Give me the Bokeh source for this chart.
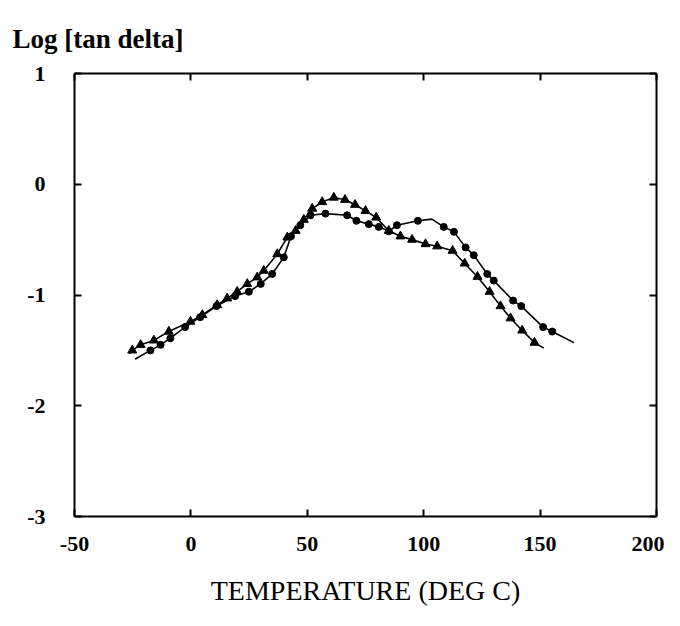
from bokeh.plotting import figure
from bokeh.models import Range1d, LinearAxis, FixedTicker, Title
from bokeh.embed import file_html
from bokeh.resources import INLINE

# Triangle series (marker positions)
tri_T = [-25.2, -21.6, -15.9, -9.5, -0.2, 4.9, 11.3, 15.6, 19.9, 24.2, 28.5, 31.3,
         37.1, 41.4, 45.0, 48.5, 52.1, 56.4, 61.4, 66.2, 70.5, 75.0, 79.6, 85.0,
         90.0, 95.0, 100.8, 105.8, 112.4, 117.6, 123.1, 128.3, 133.0, 137.3, 142.3, 147.6]
tri_v = [-1.50, -1.45, -1.41, -1.33, -1.24, -1.18, -1.09, -1.03, -0.97, -0.90, -0.84, -0.78,
         -0.63, -0.48, -0.42, -0.32, -0.22, -0.16, -0.12, -0.14, -0.185, -0.24, -0.30, -0.42,
         -0.47, -0.50, -0.54, -0.56, -0.60, -0.715, -0.835, -0.97, -1.10, -1.21, -1.32, -1.43]
tri_end_T = [-26.5, 151.6]
tri_end_v = [-1.53, -1.48]

# Circle series (marker positions)
cir_T = [-17.4, -13.0, -8.8, -2.5, 4.0, 11.0, 19.0, 24.9, 30.0, 34.9, 39.9, 43.0,
         47.0, 51.4, 57.8, 67.1, 71.1, 76.4, 80.7, 85.0, 88.5, 97.5, 108.6, 113.0,
         118.0, 121.5, 127.3, 130.1, 138.4, 141.9, 151.3, 155.2]
cir_v = [-1.50, -1.45, -1.39, -1.29, -1.20, -1.10, -1.01, -0.97, -0.90, -0.81, -0.66, -0.47,
         -0.37, -0.28, -0.265, -0.28, -0.33, -0.36, -0.385, -0.425, -0.37, -0.33, -0.385, -0.43,
         -0.57, -0.64, -0.81, -0.87, -1.05, -1.10, -1.29, -1.33]
cir_end_T = [-24.0, 164.5]
cir_end_v = [-1.58, -1.43]
cir_peak_T = [103.5]
cir_peak_v = [-0.315]

x_ticks = [-50, 0, 50, 100, 150, 200]
x_labels = ["-50", "0", "50", "100", "150", "200"]
y_ticks = [-3, -2, -1, 0, 1]
y_labels = ["-3", "-2", "-1", "0", "1"]

FONT = "Liberation Serif"

p = figure(width=664, height=626, x_range=Range1d(-50, 200), y_range=Range1d(-3, 1),
           output_backend="svg", toolbar_location=None,
           min_border_left=74, min_border_right=8, min_border_top=73, min_border_bottom=110)
p.grid.visible = False
p.outline_line_color = None

p.title.text = "Log [tan delta]"
p.title.align = "left"
p.title.offset = -62
p.title.text_font = FONT
p.title.text_font_style = "bold"
p.title.text_font_size = "27px"
p.title.text_color = "black"
p.title.standoff = 40

for ax in (p.xaxis[0], p.yaxis[0]):
    ax.major_tick_in = 7
    ax.major_tick_out = 0
    ax.minor_tick_line_color = None
    ax.axis_line_width = 2
    ax.major_tick_line_width = 2
    ax.major_label_text_font = FONT
    ax.major_label_text_font_style = "bold"
    ax.major_label_text_font_size = "22px"
    ax.major_label_text_color = "black"
p.xaxis[0].ticker = FixedTicker(ticks=x_ticks)
p.yaxis[0].ticker = FixedTicker(ticks=y_ticks)
p.xaxis[0].major_label_overrides = dict(zip(x_ticks, x_labels))
p.yaxis[0].major_label_overrides = dict(zip(y_ticks, y_labels))
p.xaxis[0].major_label_standoff = 20
p.yaxis[0].major_label_standoff = 29

top = LinearAxis(ticker=FixedTicker(ticks=x_ticks), major_tick_in=7, major_tick_out=0,
                 minor_tick_line_color=None, axis_line_width=2, major_tick_line_width=2,
                 major_label_overrides={t: "" for t in x_ticks})
right = LinearAxis(ticker=FixedTicker(ticks=y_ticks), major_tick_in=7, major_tick_out=0,
                   minor_tick_line_color=None, axis_line_width=2, major_tick_line_width=2,
                   major_label_overrides={t: "" for t in y_ticks})
p.add_layout(top, "above")
p.add_layout(right, "right")

xtitle = Title(text="TEMPERATURE (DEG C)", align="center", offset=40,
               text_font=FONT, text_font_style="normal", text_font_size="28px",
               text_color="black", standoff=39)
p.add_layout(xtitle, "below")

# curves
tl_T = [tri_end_T[0]] + tri_T + [tri_end_T[1]]
tl_v = [tri_end_v[0]] + tri_v + [tri_end_v[1]]
p.line(tl_T, tl_v, line_color="black", line_width=1.6)
p.scatter(tri_T, tri_v, marker="triangle", size=9, fill_color="black", line_color="black")

cl = sorted(list(zip([cir_end_T[0]] + cir_T + cir_peak_T + [cir_end_T[1]],
                     [cir_end_v[0]] + cir_v + cir_peak_v + [cir_end_v[1]])))
p.line([a for a, b in cl], [b for a, b in cl], line_color="black", line_width=1.6)
p.scatter(cir_T, cir_v, marker="circle", size=7, fill_color="black", line_color="black")

open("out.html", "w").write(file_html(p, INLINE))
